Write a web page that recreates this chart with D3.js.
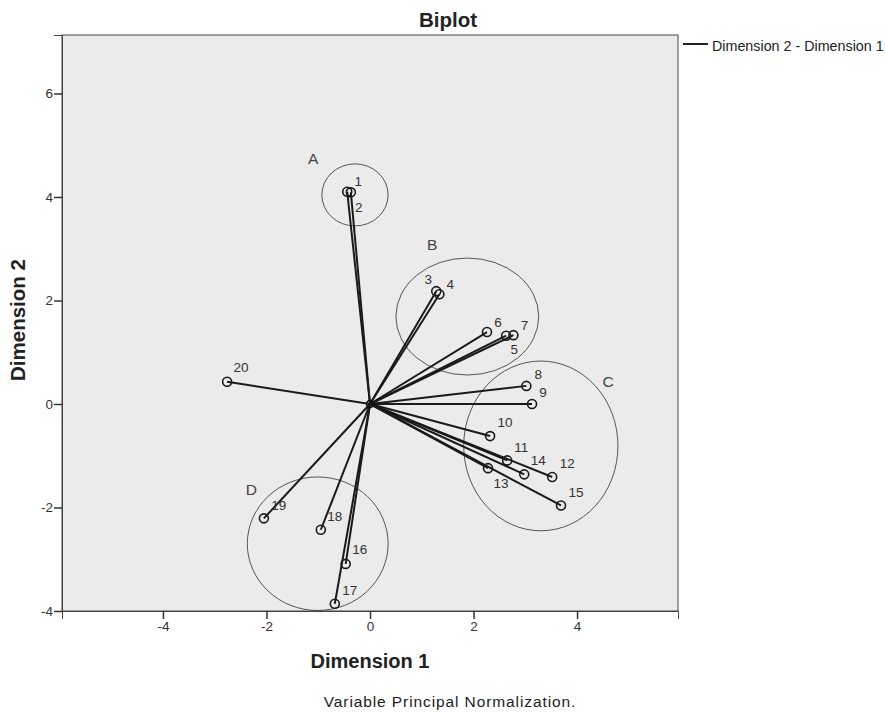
<!DOCTYPE html>
<html><head><meta charset="utf-8">
<script src="https://cdn.jsdelivr.net/npm/d3@7"></script>
<style>body{margin:0;background:#fff;} svg{display:block;font-family:"Liberation Sans",Arial,sans-serif;}</style>
</head><body>
<svg id="c" width="885" height="713"></svg>
<script>
const labels = ["1","2","3","4","5","6","7","8","9","10","11","12","13","14","15","16","17","18","19","20"];
const dim1 = [-0.44,-0.37,1.28,1.34,2.63,2.26,2.77,3.02,3.13,2.32,2.65,3.52,2.28,2.98,3.69,-0.47,-0.68,-0.95,-2.05,-2.76];
const dim2 = [4.10,4.09,2.18,2.12,1.32,1.39,1.33,0.35,0.0,-0.62,-1.09,-1.41,-1.24,-1.36,-1.96,-3.09,-3.86,-2.43,-2.21,0.43];
const labelDx = [11,8,-8,11,8,11,11,12,11,15,14,15,13,14,15,14,15,14,15,14];
const labelDy = [-10,15,-12,-10,14,-10,-10,-11,-11,-14,-13,-13,15,-14,-13,-14,-13,-13,-13,-14];
const groups = ["A","B","C","D"];
const groupCx = [-0.29,1.88,3.30,-1.01];
const groupCy = [4.04,1.69,-0.81,-2.70];
const groupRx = [0.64,1.38,1.49,1.36];
const groupRy = [0.60,1.13,1.64,1.29];
const groupLabelX = [-1.10,1.20,4.60,-2.29];
const groupLabelY = [4.75,3.08,0.43,-1.66];
const xTicks = [-4,-2,0,2,4];
const yTicks = [-4,-2,0,2,4,6];

const svg = d3.select("#c");
const L=62,R=678,T=35,B=611;
const x = d3.scaleLinear().domain([-5.95,5.95]).range([L,R]);
const y = d3.scaleLinear().domain([-4,7.13]).range([B,T]);

svg.append("rect").attr("x",L).attr("y",T).attr("width",R-L).attr("height",B-T)
  .attr("fill","#ebebeb").attr("stroke","#444").attr("stroke-width",1);

const xa = svg.append("g").attr("transform",`translate(0,${B})`)
  .call(d3.axisBottom(x).tickValues(xTicks).tickSize(8).tickPadding(2).tickFormat(d3.format("d")));
const ya = svg.append("g").attr("transform",`translate(${L},0)`)
  .call(d3.axisLeft(y).tickValues(yTicks).tickSize(8).tickPadding(1).tickFormat(d3.format("d")));
[xa,ya].forEach(a=>{
  a.select(".domain").attr("stroke","#444");
  a.selectAll(".tick line").attr("stroke","#333").attr("stroke-width",1.5);
  a.selectAll(".tick text").attr("font-size",13.5).attr("fill","#333").attr("font-family","Liberation Sans, Arial, sans-serif");
});
ya.selectAll(".tick text").text(d=>d<0?"-"+Math.abs(d):d);
xa.selectAll(".tick text").text(d=>d<0?"-"+Math.abs(d):d);

// group ellipses
const g = svg.append("g");
groups.forEach((name,i)=>{
  g.append("ellipse").attr("cx",x(groupCx[i])).attr("cy",y(groupCy[i]))
   .attr("rx",x(groupRx[i])-x(0)).attr("ry",y(0)-y(groupRy[i]))
   .attr("fill","none").attr("stroke","#444").attr("stroke-width",0.9);
  g.append("text").attr("x",x(groupLabelX[i])).attr("y",y(groupLabelY[i]))
   .attr("text-anchor","middle").attr("dominant-baseline","central")
   .attr("font-size",15.5).attr("fill","#444").text(name);
});

// vectors
labels.forEach((lab,i)=>{
  g.append("line").attr("x1",x(0)).attr("y1",y(0)).attr("x2",x(dim1[i])).attr("y2",y(dim2[i]))
   .attr("stroke","#1a1a1a").attr("stroke-width",2);
});
svg.append("circle").attr("cx",x(0)).attr("cy",y(0)).attr("r",3.5).attr("fill","none").attr("stroke","#111").attr("stroke-width",1.5);
labels.forEach((lab,i)=>{
  g.append("circle").attr("cx",x(dim1[i])).attr("cy",y(dim2[i])).attr("r",4.5)
   .attr("fill","none").attr("stroke","#1a1a1a").attr("stroke-width",1.6);
  g.append("text").attr("x",x(dim1[i])+labelDx[i]).attr("y",y(dim2[i])+labelDy[i])
   .attr("text-anchor","middle").attr("dominant-baseline","central")
   .attr("font-size",13.5).attr("fill","#333").text(lab);
});

// titles
svg.append("text").attr("x",448).attr("y",27).attr("text-anchor","middle")
  .attr("font-size",20.5).attr("font-weight","bold").attr("fill","#222").text("Biplot");
svg.append("text").attr("x",370).attr("y",668).attr("text-anchor","middle")
  .attr("font-size",20).attr("font-weight","bold").attr("fill","#222").text("Dimension 1");
svg.append("text").attr("transform",`translate(25,320) rotate(-90)`).attr("text-anchor","middle")
  .attr("font-size",20.5).attr("font-weight","bold").attr("fill","#222").text("Dimension 2");
svg.append("text").attr("x",450).attr("y",707).attr("text-anchor","middle")
  .attr("font-size",15.5).attr("letter-spacing",0.9).attr("fill","#222").text("Variable Principal Normalization.");

// legend
svg.append("line").attr("x1",683).attr("x2",708).attr("y1",44).attr("y2",44).attr("stroke","#222").attr("stroke-width",2);
svg.append("text").attr("x",712).attr("y",51).attr("font-size",14.3).attr("fill","#222").text("Dimension 2 - Dimension 1");
</script>
</body></html>
